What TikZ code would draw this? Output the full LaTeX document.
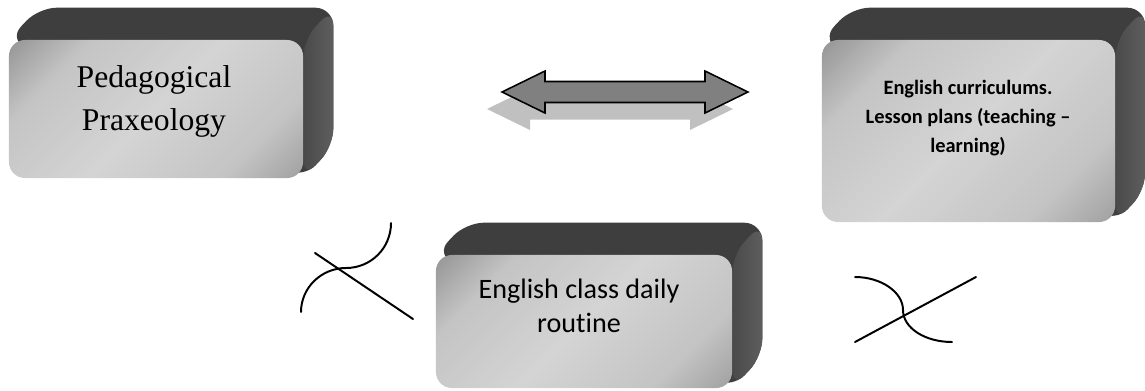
\documentclass[tikz,border=0pt]{standalone}
\usepackage{fontspec}
\setmainfont{Liberation Serif}
\newfontfamily\calibri[Ligatures=NoCommon]{Carlito}
\usepackage{tikz}
\usetikzlibrary{calc}
\usetikzlibrary{backgrounds}

\definecolor{topgray}{HTML}{3E3E3E}
\definecolor{sidegray}{HTML}{4A4A4A}
\definecolor{sidelight}{HTML}{5E5E5E}
\definecolor{faceright}{HTML}{7A7A7A}
\definecolor{faceleft}{HTML}{626262}
\definecolor{facemid}{HTML}{C4C4C4}
\definecolor{facelight}{HTML}{D4D4D4}
\definecolor{arrowgray}{HTML}{808080}
\definecolor{shadowgray}{HTML}{C0C0C0}

\pgfdeclareverticalshading{facegrad}{100bp}{color(0bp)=(faceright); color(28bp)=(facemid); color(50bp)=(facelight); color(72bp)=(facemid); color(100bp)=(faceleft)}

\tikzstyle{face} = [rectangle, rounded corners=0.4cm, inner sep=0pt, shading=facegrad, shading angle=45]
\tikzstyle{topface} = [fill=topgray, rounded corners=0.45cm]
\tikzstyle{sideface} = [left color=sidegray, right color=sidelight, rounded corners=0.45cm]
\tikzstyle{cross} = [line width=1.4pt, line cap=round]
\newcommand{\extrude}[1]{%
    \fill[topface] (#1.north west) -- ++(30,-32) -| ($(#1.south east)+(30,-32)$) -- (#1.south east) -- cycle;
    \shade[sideface] (#1.north east) -- ($(#1.north east)+(30,-32)$) -- ($(#1.south east)+(30,-32)$) -- (#1.south east) -- cycle;
}
\newcommand{\linkarrow}{(-123,0) -- (-80,-21) -- (-80,-10.5) -- (80,-10.5) -- (80,-21) -- (123,0) -- (80,21) -- (80,10.5) -- (-80,10.5) -- (-80,21) -- cycle}

\begin{document}
\begin{tikzpicture}[x=0.025cm, y=-0.025cm]

    \useasboundingbox (0,0) rectangle (1145,390);

    \node[face,
        minimum width=7.35cm,
        minimum height=3.45cm]
    (praxis) at (156,109) {};

    \node[face,
        minimum width=7.325cm,
        minimum height=4.55cm]
    (curric) at (968.5,131) {};

    \node[face,
        minimum width=7.4cm,
        minimum height=3.325cm]
    (routine) at (584,321.5) {};

    \begin{scope}[on background layer]
        \extrude{praxis}
        \extrude{curric}
        \extrude{routine}
    \end{scope}

    \node[align=center,
        inner sep=0pt,
        font=\fontsize{22.5}{30.6}\selectfont]
    (praxistext) at (154,101) {
        Pedagogical\\
        Praxeology
    };

    \node[align=center,
        inner sep=0pt,
        font=\calibri\bfseries\fontsize{14.5}{20.6}\selectfont]
    (currictext) at (968,118) {
        English curriculums.\\
        Lesson plans (teaching –\\
        learning)
    };

    \node[align=center,
        inner sep=0pt,
        font=\calibri\fontsize{20}{24.2}\selectfont]
    (routinetext) at (579,306) {
        English class daily\\
        routine
    };

    \coordinate (link) at (625,92);
    \fill[shadowgray, shift={($(link)+(-15,17)$)}] \linkarrow;
    \filldraw[fill=arrowgray, draw=black, line width=1.1pt, shift={(link)}] \linkarrow;

    \draw[cross] (315,253) -- (413,319);
    \draw[cross] (301,312) .. controls (301,288) and (321,268) .. (346,268)
        .. controls (371,268) and (391,248) .. (391,223);
    \draw[cross] (855,342) -- (976,277);
    \draw[cross] (855,277) .. controls (881,277) and (903,292) .. (903,310)
        .. controls (903,328) and (925,342) .. (952,342);

\end{tikzpicture}
\end{document}
